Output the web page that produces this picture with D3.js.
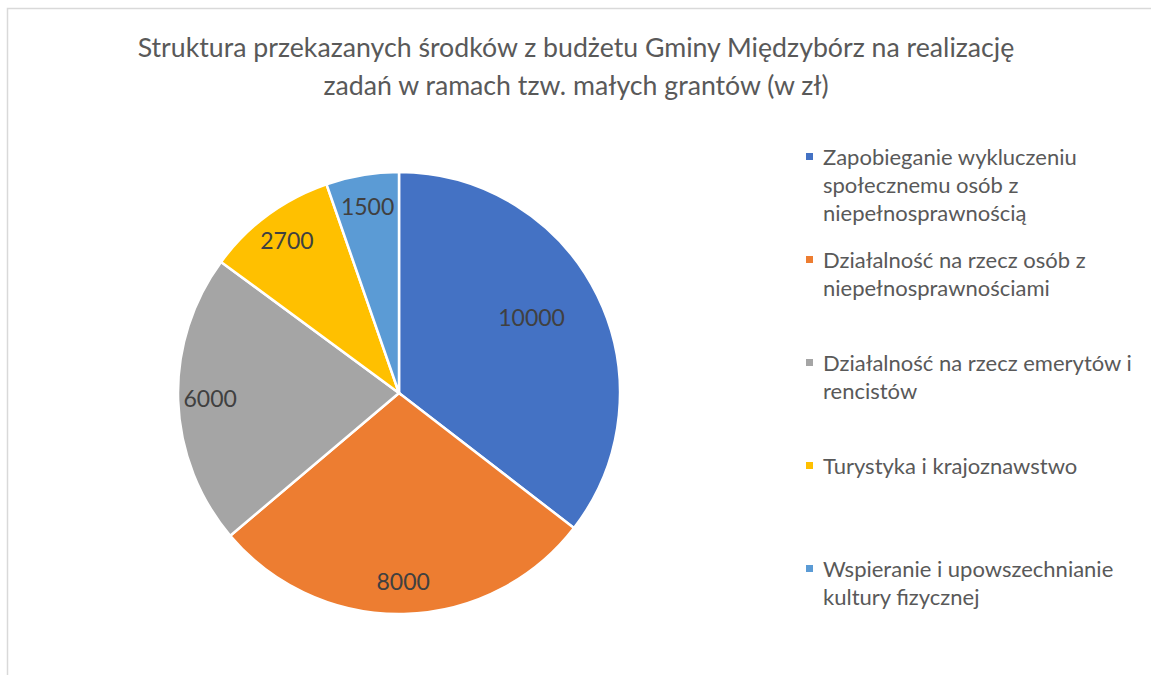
<!DOCTYPE html>
<html>
<head>
<meta charset="utf-8">
<script src="https://cdn.jsdelivr.net/npm/d3@7"></script>
<style>
  body { margin: 0; background: #fff; }
  text { font-family: Lato, "Open Sans", sans-serif; }
</style>
</head>
<body>
<script>
var titleLines = ['Struktura przekazanych środków z budżetu Gminy Międzybórz na realizację',
                  'zadań w ramach tzw. małych grantów (w zł)'];
var categories = [
    ['Zapobieganie wykluczeniu', 'społecznemu osób z', 'niepełnosprawnością'],
    ['Działalność na rzecz osób z', 'niepełnosprawnościami'],
    ['Działalność na rzecz emerytów i', 'rencistów'],
    ['Turystyka i krajoznawstwo'],
    ['Wspieranie i upowszechnianie', 'kultury fizycznej']
];
var values = [10000, 8000, 6000, 2700, 1500];
var colors = ['#4472C4', '#ED7D31', '#A5A5A5', '#FFC000', '#5B9BD5'];

var width = 1151, height = 675,
    cx = 399, cy = 393, radius = 221;

var svg = d3.select('body').append('svg')
    .attr('width', width)
    .attr('height', height);

// chart area border (runs off the right and bottom edge)
svg.append('rect')
    .attr('x', 7.5)
    .attr('y', 8.5)
    .attr('width', width + 20)
    .attr('height', height + 20)
    .attr('fill', 'none')
    .attr('stroke', '#d9d9d9')
    .attr('stroke-width', 1.5);

svg.append('g').selectAll('text')
    .data(titleLines)
    .enter()
    .append('text')
    .attr('x', 576)
    .attr('y', function(d, i) { return 57 + i * 38; })
    .attr('text-anchor', 'middle')
    .style('font-size', '26.7px')
    .style('fill', '#595959')
    .text(function(d) { return d; });

var pie = d3.pie().sort(null).value(function(d) { return d; }),
    arcs = pie(values),
    arc = d3.arc().innerRadius(0).outerRadius(radius),
    total = d3.sum(values);

var chart = svg.append('g')
    .attr('transform', 'translate(' + cx + ',' + cy + ')');

chart.selectAll('.slice')
    .data(arcs)
    .enter()
    .append('path')
    .attr('class', 'slice')
    .attr('d', arc)
    .attr('fill', function(d, i) { return colors[i]; })
    .attr('stroke', '#fff')
    .attr('stroke-width', 2.5);

// big slices get their label pulled further in, like Excel's best fit
chart.selectAll('.label')
    .data(arcs)
    .enter()
    .append('text')
    .attr('class', 'label')
    .attr('transform', function(d) {
        var k = d.value / total > 0.3 ? 0.69 : 0.855,
            a = (d.startAngle + d.endAngle) / 2 - (d.value / total > 0.3 ? 0.06 : 0);
        return 'translate(' + (Math.sin(a) * radius * k) + ',' + (-Math.cos(a) * radius * k) + ')';
    })
    .attr('text-anchor', 'middle')
    .attr('dy', '0.35em')
    .style('font-size', '23px')
    .style('fill', '#404040')
    .text(function(d) { return d.value; });

var legend = svg.append('g').selectAll('.legend')
    .data(categories)
    .enter()
    .append('g')
    .attr('class', 'legend')
    .attr('transform', function(d, i) { return 'translate(806,' + (165 + i * 103) + ')'; });

legend.append('rect')
    .attr('y', -12)
    .attr('width', 7)
    .attr('height', 7)
    .attr('fill', function(d, i) { return colors[i]; });

legend.append('text')
    .style('font-size', '22px')
    .style('fill', '#595959')
    .selectAll('tspan')
    .data(function(d) { return d; })
    .enter()
    .append('tspan')
    .attr('x', 17)
    .attr('y', function(d, i) { return i * 28; })
    .text(function(d) { return d; });
</script>
</body>
</html>
